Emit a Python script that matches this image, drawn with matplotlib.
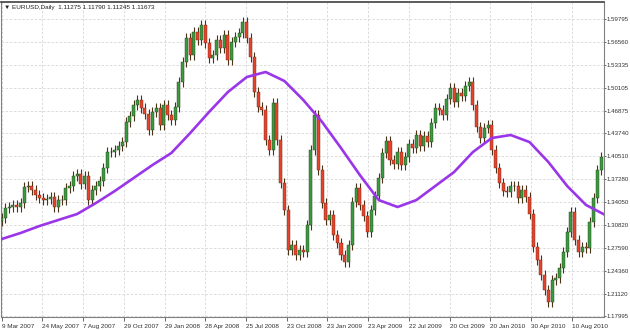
import numpy as np
import matplotlib
matplotlib.use("Agg")
import matplotlib.pyplot as plt

plt.rcParams['font.family'] = ['Liberation Sans', 'DejaVu Sans']

# weekly closes (one value every 5 trading days)
closes = [
    1.3179, 1.3320, 1.3334, 1.3362, 1.3334, 1.3390, 1.3615, 1.3629, 1.3573, 1.3503,
    1.3460, 1.3432, 1.3446, 1.3474, 1.3334, 1.3432, 1.3432, 1.3601, 1.3629, 1.3770,
    1.3798, 1.3657, 1.3770, 1.3432, 1.3573, 1.3629, 1.3700, 1.3883, 1.4108, 1.4108,
    1.4136, 1.4192, 1.4248, 1.4530, 1.4614, 1.4769, 1.4840, 1.4727, 1.4643, 1.4417,
    1.4671, 1.4727, 1.4488, 1.4769, 1.4628, 1.4558, 1.4741, 1.5093, 1.5374, 1.5712,
    1.5473, 1.5797, 1.5684, 1.5895, 1.5642, 1.5431, 1.5473, 1.5684, 1.5571, 1.5754,
    1.5403, 1.5656, 1.5726, 1.5783, 1.5937, 1.5712, 1.5445, 1.4952, 1.4741, 1.4699,
    1.4277, 1.4136, 1.4797, 1.4277, 1.3671, 1.3291, 1.2728, 1.2799, 1.2658, 1.2728,
    1.2700, 1.3080, 1.4136, 1.4628, 1.3854, 1.3390, 1.3151, 1.3221, 1.2940, 1.2827,
    1.2658, 1.2560, 1.2799, 1.3404, 1.3601, 1.3362, 1.3207, 1.2982, 1.3291, 1.3488,
    1.3742, 1.4094, 1.4263, 1.3995, 1.3939, 1.4108, 1.3925, 1.4037, 1.4220, 1.4164,
    1.4347, 1.4192, 1.4333, 1.4248, 1.4516, 1.4727, 1.4699, 1.4628, 1.4854, 1.5008,
    1.4811, 1.4938, 1.4896, 1.5037, 1.5093, 1.4769, 1.4460, 1.4305, 1.4446, 1.4488,
    1.4136, 1.3883, 1.3671, 1.3559, 1.3545, 1.3629, 1.3629, 1.3460, 1.3573, 1.3474,
    1.3235, 1.2771, 1.2588, 1.2377, 1.2165, 1.1997, 1.2306, 1.2334, 1.2475, 1.2700,
    1.2982, 1.3263, 1.2869, 1.2700, 1.2771, 1.2757, 1.3123, 1.3460, 1.3854, 1.4037,
]

# moving average line, read every 25 trading days
ma_days = [0, 25, 50, 75, 100, 125, 150, 175, 200, 225, 250, 275, 300, 325, 350, 375,
           400, 425, 450, 475, 500, 525, 550, 575, 600, 625, 650, 675, 700, 725, 750,
           775, 798]
ma_vals = [1.2883, 1.2968, 1.3066, 1.3151, 1.3235, 1.3390, 1.3559, 1.3742, 1.3925,
           1.4094, 1.4375, 1.4671, 1.4952, 1.5163, 1.5234, 1.5107, 1.4840, 1.4530,
           1.4164, 1.3784, 1.3432, 1.3334, 1.3432, 1.3629, 1.3826, 1.4108, 1.4305,
           1.4347, 1.4248, 1.3967, 1.3629, 1.3362, 1.3235]

price_ticks = [1.59795, 1.56560, 1.53335, 1.50105, 1.46875, 1.43740, 1.40510,
               1.37280, 1.34050, 1.30820, 1.27590, 1.24360, 1.21120, 1.17995]
date_labels = ['9 Mar 2007', '24 May 2007', '7 Aug 2007', '29 Oct 2007', '29 Jan 2008',
               '28 Apr 2008', '25 Jul 2008', '23 Oct 2008', '23 Jan 2009', '23 Apr 2009',
               '22 Jul 2009', '20 Oct 2009', '20 Jan 2010', '30 Apr 2010', '10 Aug 2010']
date_days = [54 * k for k in range(len(date_labels))]

fig = plt.figure(figsize=(6.3, 3.3), dpi=100)
ax = fig.add_axes([1 / 630, 13 / 330, 603 / 630, 315 / 330])

days = np.arange(len(closes)) * 5
closes = np.array(closes)
opens = np.concatenate([[closes[0] - 0.004], closes[:-1]])
wick = 0.007
highs = np.maximum(opens, closes) + wick
lows = np.minimum(opens, closes) - wick
up = closes >= opens

ax.vlines(days, lows, highs, color='#4a3418', lw=0.8, zorder=2)
ax.bar(days[up], (closes - opens)[up], bottom=opens[up], width=4,
       color='#3a9a40', edgecolor='#2e3a18', lw=0.3, zorder=3)
ax.bar(days[~up], (closes - opens)[~up], bottom=opens[~up], width=4,
       color='#e5432c', edgecolor='#6a2a18', lw=0.3, zorder=3)

ax.plot(ma_days, ma_vals, color='#9a35e8', lw=1.9, zorder=4)

ax.set_xlim(-0.9, 798.8)
ax.set_ylim(1.1786, 1.6219)

ax.set_yticks(price_ticks)
ax.set_yticklabels(['%.5f' % p for p in price_ticks])
ax.yaxis.tick_right()
ax.set_xticks(date_days)
ax.set_xticklabels(date_labels, ha='left')
ax.tick_params(axis='both', labelsize=4.6, width=0.6, color='#505050',
               labelcolor='#303030', direction='out')
ax.tick_params(axis='x', length=3, pad=2)
ax.tick_params(axis='y', length=1.5, pad=0.6, labelsize=4.4)

ax.grid(True, color='#d6d6d6', lw=0.6, ls=(0, (3, 2)))
ax.set_axisbelow(True)
for s in ['left', 'bottom', 'right']:
    ax.spines[s].set_color('#808080')
    ax.spines[s].set_linewidth(0.8)
ax.spines['top'].set_color('#404040')
ax.spines['top'].set_linewidth(1.2)

fig.text(4 / 630, 1 - 7.5 / 330, '\u25bc EURUSD,Daily  1.11275 1.11790 1.11245 1.11673',
         fontsize=4.6, color='#202020', va='center', ha='left',
         family=['Liberation Sans', 'DejaVu Sans'])

fig.savefig('out.png', dpi=100)
